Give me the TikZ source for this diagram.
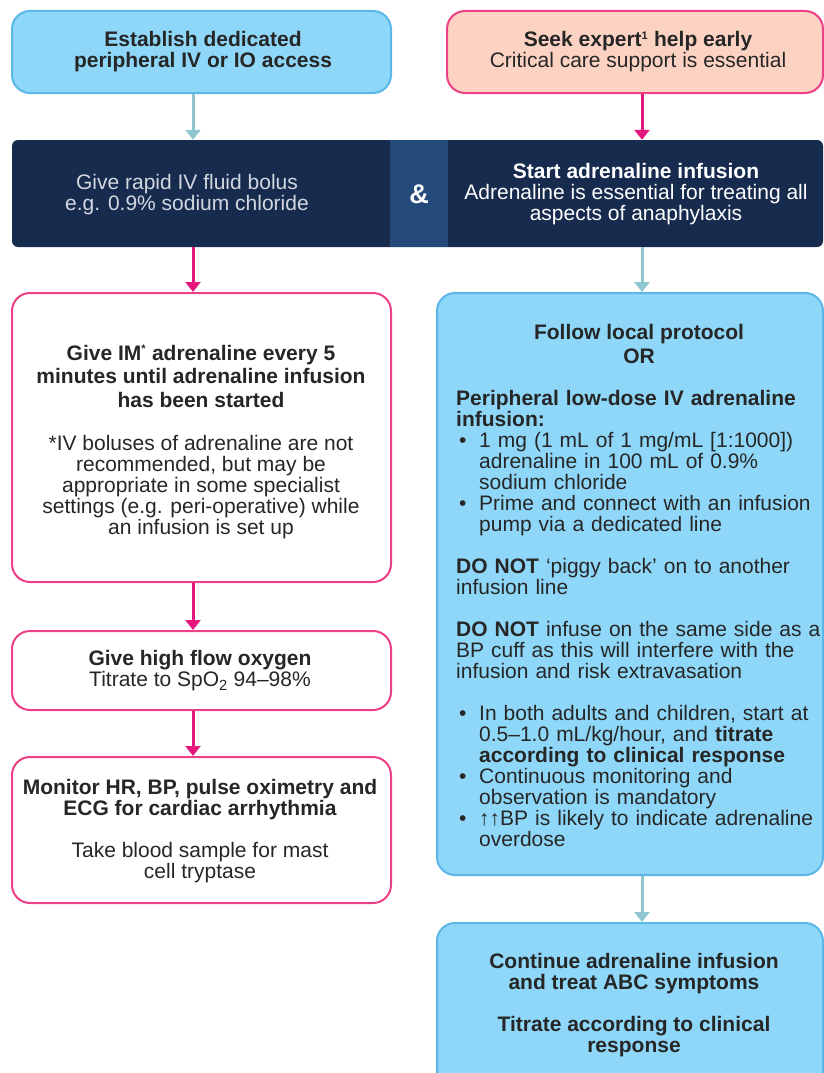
\documentclass[tikz,border=0pt]{standalone}
\usepackage{fontspec}
\setmainfont{Liberation Sans}
\usetikzlibrary{arrows.meta}

\definecolor{skyfill}{HTML}{8ED7F8}
\definecolor{skyline}{HTML}{5AB8E8}
\definecolor{salmon}{HTML}{FCD3C3}
\definecolor{rose}{HTML}{EC3F86}
\definecolor{rosearrow}{HTML}{E6177C}
\definecolor{tealarrow}{HTML}{8FC6CF}
\definecolor{navy}{HTML}{172B4E}
\definecolor{navymid}{HTML}{244A7B}
\definecolor{ink}{HTML}{262626}
\definecolor{pale}{HTML}{D3D8E0}

% bullet item with hanging indent (lines inside an item are broken with \newline)
\newcommand\bitem{\par\hangindent=23pt\hangafter=1\noindent\makebox[23pt][l]{\hspace{3pt}•}}
% small raised mark
\newcommand\smallmark[1]{\textsuperscript{\fontsize{11pt}{11pt}\selectfont #1}}

\begin{document}
\begin{tikzpicture}[x=1pt, y=-1pt,
  font=\fontsize{21pt}{21pt}\selectfont, text=ink,
  box/.style={rectangle, rounded corners=18pt, line width=2pt, inner sep=0pt},
  bluebox/.style={box, fill=skyfill, draw=skyline},
  pinkbox/.style={box, fill=white, draw=rose},
  peachbox/.style={box, fill=salmon, draw=rose},
  txt/.style={align=center, inner sep=0pt},
  arrpink/.style={draw=rosearrow, line width=3pt, -{Triangle[width=15pt,length=10pt]}},
  arrteal/.style={draw=tealarrow, line width=3pt, -{Triangle[width=15pt,length=10pt]}}]

\useasboundingbox (0,0) rectangle (824,1073);
\clip (0,0) rectangle (824,1073);

% column positions of the connectors
\coordinate (colL) at (193,0);
\coordinate (colR) at (642,0);

% top row
\node[bluebox, minimum width=379pt, minimum height=82pt] (access) at (201.5,52) {};
\node[peachbox, minimum width=376pt, minimum height=82pt] (expert) at (635,52) {};
\node[txt] (accessT) at (203,52) {\textbf{Establish dedicated}\\\textbf{peripheral IV or IO access}};
\node[txt] (expertT) at (638,52) {\textbf{Seek expert\smallmark{1} help early}\\Critical care support is essential};

% dark bar
\node[rectangle, rounded corners=6pt, fill=navy, minimum width=811pt, minimum height=107pt, inner sep=0pt] (bar) at (417.5,193.5) {};
\node[rectangle, fill=navymid, minimum width=58pt, minimum height=107pt, inner sep=0pt] (mid) at (419,193.5) {};
\node[txt, text=white, font=\fontsize{27pt}{27pt}\selectfont\bfseries] (amp) at (419,194) {\&};
\node[txt, text=pale] (fluid) at (187,195) {Give rapid IV fluid bolus\\e.g. 0.9\% sodium chloride};
\node[txt, text=white] (infusion) at (636,194) {\textbf{Start adrenaline infusion}\\Adrenaline is essential for treating all\\aspects of anaphylaxis};

% left column
\node[pinkbox, minimum width=379pt, minimum height=289pt] (im) at (201.5,437.5) {};
\node[txt] (imT) at (201,442) {\textbf{Give IM\smallmark{*} adrenaline every 5}\\[2.5pt]\textbf{minutes until adrenaline infusion}\\[2.5pt]\textbf{has been started}\\[22pt]*IV boluses of adrenaline are not\\recommended, but may be\\appropriate in some specialist\\settings (e.g. peri-operative) while\\an infusion is set up};

\node[pinkbox, minimum width=379pt, minimum height=79pt] (oxy) at (201.5,670.5) {};
\node[txt] (oxyT) at (200,671) {\textbf{Give high flow oxygen}\\Titrate to SpO\textsubscript{2} 94–98\%};

\node[pinkbox, minimum width=379pt, minimum height=146pt] (mon) at (201.5,830) {};
\node[txt] (monT) at (200,831) {\textbf{Monitor HR, BP, pulse oximetry and}\\\textbf{ECG for cardiac arrhythmia}\\[21pt]Take blood sample for mast\\cell tryptase};

% right column
\node[bluebox, minimum width=386pt, minimum height=582pt] (proto) at (630,584) {};
\node[txt] (protoT) at (639,344) {\textbf{Follow local protocol}\\[3pt]\textbf{OR}};
\node[anchor=north west, inner sep=0pt, text width=372pt, align=left] (protoB) at (456,390.5) {%
\textbf{Peripheral low-dose IV adrenaline}\newline
\textbf{infusion:}
\bitem 1 mg (1 mL of 1 mg/mL [1:1000])\newline adrenaline in 100 mL of 0.9\%\newline sodium chloride
\bitem Prime and connect with an infusion\newline pump via a dedicated line\par
\vspace{21pt}
\noindent\textbf{DO NOT} ‘piggy back’ on to another\newline infusion line\par
\vspace{21pt}
\noindent\textbf{DO NOT} infuse on the same side as a\newline BP cuff as this will interfere with the\newline infusion and risk extravasation\par
\vspace{21pt}
\bitem In both adults and children, start at\newline 0.5–1.0 mL/kg/hour, and \textbf{titrate}\newline \textbf{according to clinical response}
\bitem Continuous monitoring and\newline observation is mandatory
\bitem ↑↑BP is likely to indicate adrenaline\newline overdose\par};

\node[bluebox, minimum width=386pt, minimum height=167pt] (cont) at (630,1006.5) {};
\node[txt] (contT) at (634,1005) {\textbf{Continue adrenaline infusion}\\\textbf{and treat ABC symptoms}\\[21pt]\textbf{Titrate according to clinical}\\\textbf{response}};

% connectors
\draw[arrteal] (access.south -| colL) -- (bar.north -| colL);
\draw[arrpink] (expert.south -| colR) -- (bar.north -| colR);
\draw[arrpink] (bar.south -| colL) -- (im.north -| colL);
\draw[arrteal] (bar.south -| colR) -- (proto.north -| colR);
\draw[arrpink] (im.south -| colL) -- (oxy.north -| colL);
\draw[arrpink] (oxy.south -| colL) -- (mon.north -| colL);
\draw[arrteal] (proto.south -| colR) -- (cont.north -| colR);
\end{tikzpicture}
\end{document}
